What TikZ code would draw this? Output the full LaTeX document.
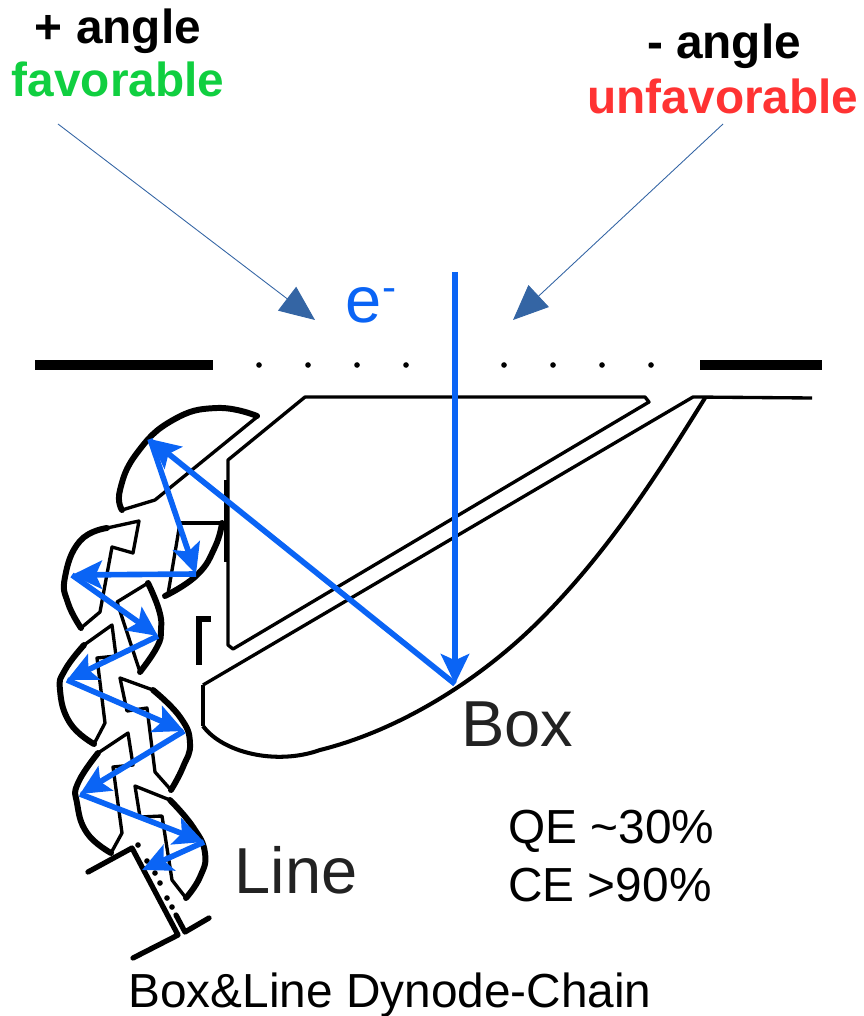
\documentclass[tikz,border=0pt]{standalone}
\usepackage{fontspec}
\setmainfont{Liberation Sans}
\usetikzlibrary{arrows.meta}
\definecolor{beamblue}{HTML}{0A64F5}
\definecolor{tipblue}{HTML}{3465A4}
\definecolor{favgreen}{HTML}{10CF40}
\definecolor{unfavred}{HTML}{FF3333}
\definecolor{labelgrey}{HTML}{222222}
\tikzset{
  beam/.style={draw=beamblue, line width=3.2pt, -{Stealth[length=17pt,width=16pt,inset=3.5pt]}},
  incoming/.style={draw=tipblue, line width=0.5pt, -{Triangle[length=20pt,width=17pt]}},
  dynrim/.style={smooth, tension=0.8, line width=3.4pt, line cap=round, line join=round},
  dynwall/.style={line width=1.9pt, line join=round},
  bigtext/.style={font=\fontsize{27.2}{27.2}\selectfont, inner sep=0pt},
  hugetext/.style={font=\fontsize{37}{37}\selectfont, inner sep=0pt, text=labelgrey},
}
\begin{document}
\begin{tikzpicture}[x=0.02cm,y=-0.02cm]
 \useasboundingbox (0,0) rectangle (863,1016);
 % labels
 \node[bigtext] (plus) at (118,31) {\textbf{+ angle}};
 \node[bigtext,text=favgreen] (fav) at (118,79) {\textbf{favorable}};
 \node[bigtext] (minus) at (724,46) {\textbf{- angle}};
 \node[bigtext,text=unfavred] (unfav) at (723,96) {\textbf{unfavorable}};
 \node[hugetext,text=beamblue] (elec) at (371,305) {e\raisebox{12pt}{\fontsize{24}{24}\selectfont -}};
 \node[hugetext] (box) at (517,724) {Box};
 \node[hugetext] (line) at (296,870) {Line};
 \node[bigtext,anchor=west] (qe) at (508,831) {QE \textasciitilde 30\%};
 \node[bigtext,anchor=west] (ce) at (508,885) {CE >90\%};
 \node[bigtext] (title) at (390,995) {Box\&Line Dynode-Chain};
 % incoming angles
 \coordinate (pa) at (58,124);
 \coordinate (pb) at (315,320);
 \coordinate (ma) at (723,124);
 \coordinate (mb) at (513,320);
 \draw[incoming] (pa) -- (pb);
 \draw[incoming] (ma) -- (mb);
 % photocathode
 \draw[line width=5.4pt] (35,365) -- (213,365);
 \draw[line width=5.4pt] (700,365) -- (822,365);
 \foreach \x in {259,308,357,406,504,553,602,651}
  \fill (\x,365) circle (1.6pt);
 % box
 \draw[dynwall] (228,460) -- (305,397) -- (645,397) -- (649,402) -- (233,649) -- (228,645) -- cycle;
 \draw[line width=2.8pt] (226,480) -- (226,562);
 \draw[line width=3.2pt] (211,619) -- (199,619) -- (199,665);
 \draw[dynwall] (203,685) -- (693,397) -- (812,398);
 \draw[line width=2.8pt] (203,685) -- (203,726);
 \draw[line width=2.3pt,line join=round] (203,726) .. controls (222,752) and (275,766) .. (320,750)
   .. controls (400,730) and (480,680) .. (540,620) .. controls (610,550) and (660,470) .. (705,398);
 % dynodes, rims
 \draw[dynrim] plot[smooth] coordinates {(257,416) (217,408) (173,420) (137,453) (120,490) (122,510)};
 \draw[dynwall] (122,510) -- (155,500) -- (257,417);
 \draw[dynrim] plot[smooth] coordinates {(107,528) (80,541) (65,577) (68,603) (81,628)};
 \draw[dynwall] (107,528) -- (139,521) -- (133,553) -- (112,547) -- (100,612) -- (81,628);
 \draw[dynrim] plot[smooth] coordinates {(222,523) (215,547) (197,575) (165,596)};
 \draw[line width=2.8pt] (222,523) -- (180,523);
 \draw[dynwall] (180,523) -- (168,594);
 \draw[dynrim] plot[smooth] coordinates {(148,583) (159,610) (161,630) (157,647) (140,672)};
 \draw[dynwall] (148,583) -- (117,602) -- (140,672);
 \draw[dynrim] plot[smooth] coordinates {(84,645) (65,670) (60,690) (70,723) (94,744)};
 \draw[dynwall] (84,645) -- (112,625) -- (116,656) -- (97,658) -- (105,723) -- (94,744);
 \draw[dynrim] plot[smooth] coordinates {(153,690) (180,717) (190,743) (183,767) (171,790)};
 \draw[dynwall] (153,690) -- (120,678) -- (127,711) -- (147,708) -- (155,772) -- (171,790);
 \draw[dynrim] plot[smooth] coordinates {(98,753) (78,783) (77,803) (87,833) (111,853)};
 \draw[dynwall] (98,753) -- (128,733) -- (133,765) -- (113,767) -- (122,833) -- (111,853);
 \draw[dynrim] plot[smooth] coordinates {(170,800) (193,827) (205,853) (200,877) (186,898)};
 \draw[dynwall] (170,800) -- (135,786) -- (140,817) -- (162,816) -- (172,880) -- (186,898);
 % anode
 \draw[line width=3pt,line cap=round,line join=round] (88,872) -- (132,848) -- (178,935) -- (133,958);
 \draw[line width=3pt,line cap=round,line join=round] (176,915) -- (185,932) -- (209,918);
 \foreach \x/\y in {138/845,147/861,155/873,160/883,167/898,172/907}
  \fill (\x,\y) circle (1.6pt);
 % electron path
 \coordinate (e0) at (455,272);
 \coordinate (e1) at (455,684);
 \coordinate (d1) at (150,439);
 \coordinate (d2) at (196,574);
 \coordinate (d3) at (72,575);
 \coordinate (d4) at (158,636);
 \coordinate (d5) at (67,680);
 \coordinate (d6) at (184,731);
 \coordinate (d7) at (80,794);
 \coordinate (d8) at (204,842);
 \coordinate (d9) at (142,870);
 \draw[beam] (e0) -- (e1);
 \draw[beam] (e1) -- (d1);
 \draw[beam] (d1) -- (d2);
 \draw[beam] (d2) -- (d3);
 \draw[beam] (d3) -- (d4);
 \draw[beam] (d4) -- (d5);
 \draw[beam] (d5) -- (d6);
 \draw[beam] (d6) -- (d7);
 \draw[beam] (d7) -- (d8);
 \draw[beam] (d8) -- (d9);
\end{tikzpicture}
\end{document}
